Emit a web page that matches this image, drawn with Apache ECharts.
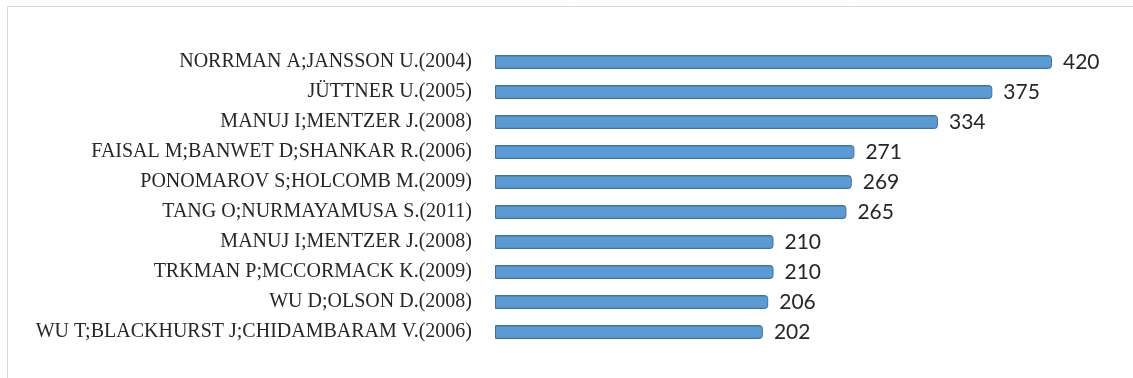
<!DOCTYPE html>
<html>
<head>
<meta charset="utf-8">
<script src="https://cdn.jsdelivr.net/npm/echarts@6/dist/echarts.min.js"></script>
<style>
  html, body { margin: 0; padding: 0; background: #ffffff; }
  #chart { width: 1133px; height: 378px; }
</style>
</head>
<body>
<div id="chart"></div>
<script>
// Most-cited papers and their citation counts
const authors = [
  'NORRMAN A;JANSSON U.(2004)',
  'JÜTTNER U.(2005)',
  'MANUJ I;MENTZER J.(2008)',
  'FAISAL M;BANWET D;SHANKAR R.(2006)',
  'PONOMAROV S;HOLCOMB M.(2009)',
  'TANG O;NURMAYAMUSA S.(2011)',
  'MANUJ I;MENTZER J.(2008)',
  'TRKMAN P;MCCORMACK K.(2009)',
  'WU D;OLSON D.(2008)',
  'WU T;BLACKHURST J;CHIDAMBARAM V.(2006)'
];
const citations = [420, 375, 334, 271, 269, 265, 210, 210, 206, 202];

const chart = echarts.init(document.getElementById('chart'), null, { renderer: 'canvas' });

chart.setOption({
  animation: false,
  backgroundColor: '#ffffff',
  graphic: [{
    type: 'rect',
    shape: { x: 7.5, y: 6.5, width: 1300, height: 600 },
    style: { fill: 'none', stroke: '#d9d9d9', lineWidth: 1 },
    silent: true,
    z: -1
  }],
  grid: { left: 495, right: 81, top: 47, bottom: 31, containLabel: false },
  xAxis: {
    type: 'value',
    min: 0,
    max: 420,
    show: false
  },
  yAxis: {
    type: 'category',
    data: authors,
    inverse: true,
    axisLine: { show: false },
    axisTick: { show: false },
    axisLabel: {
      margin: 23,
      fontFamily: 'Liberation Serif',
      fontSize: 20,
      color: '#262626'
    }
  },
  series: [{
    type: 'bar',
    data: citations,
    barWidth: 14,
    itemStyle: {
      color: new echarts.graphic.LinearGradient(0, 0, 0, 1, [
        { offset: 0, color: '#3c6b9a' },
        { offset: 0.18, color: '#5b9bd5' },
        { offset: 0.8, color: '#5b9bd5' },
        { offset: 1, color: '#4a82b8' }
      ]),
      borderColor: '#41719c',
      borderWidth: 1,
      borderRadius: [0, 3, 3, 0]
    },
    label: {
      show: true,
      position: 'right',
      distance: 11,
      fontFamily: 'Lato',
      fontSize: 21,
      color: '#262626'
    }
  }]
});
</script>
</body>
</html>
